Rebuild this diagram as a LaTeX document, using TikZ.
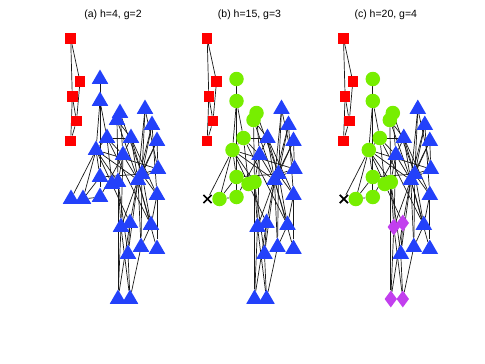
\documentclass[tikz,border=0pt]{standalone}
\usepackage{fontspec}
\setmainfont{Liberation Sans}
\usepackage{xcolor}
\definecolor{sq-red}{HTML}{FF0000}
\definecolor{tri-blue}{HTML}{2341FA}
\definecolor{dot-green}{HTML}{77EE00}
\definecolor{dia-purple}{HTML}{C23FEE}
\usepackage{tikz}
\usetikzlibrary{shapes.geometric,shapes.misc,backgrounds}

\begin{document}
\begin{tikzpicture}[
  x=1pt, y=-1pt,
  font=\fontsize{10.5}{12}\selectfont,
  sqnode/.style={rectangle, fill=sq-red, minimum size=10.5pt, inner sep=0pt},
  trinode/.style={regular polygon, regular polygon sides=3, fill=tri-blue, minimum size=19pt, inner sep=0pt},
  dotnode/.style={circle, fill=dot-green, minimum size=14.5pt, inner sep=0pt},
  dianode/.style={diamond, fill=dia-purple, minimum width=12.5pt, minimum height=17pt, inner sep=0pt},
  crossnode/.style={cross out, draw=black, line width=1.7pt, minimum size=6.5pt, inner sep=0pt},
  link/.style={draw=black!90, line width=0.7pt}
]
  \useasboundingbox (0,0) rectangle (485,364);

  \foreach \p/\dx/\gs/\ps/\xs/\ttl in {
      a/0/trinode/trinode/trinode/{(a) h=4, g=2},
      b/136.5/dotnode/trinode/crossnode/{(b) h=15, g=3},
      c/272.8/dotnode/dianode/crossnode/{(c) h=20, g=4}} {
  \begin{scope}[xshift=\dx]
    \node (\p-title) at (113,15) {\ttl};
    % squares
    \node[sqnode] (\p-s1) at (70.7,38.5) {};
    \node[sqnode] (\p-s2) at (80,81.5) {};
    \node[sqnode] (\p-s3) at (72.3,96.5) {};
    \node[sqnode] (\p-s4) at (76.5,121) {};
    \node[sqnode] (\p-s5) at (70.7,141) {};
    % upper part
    \node[\gs] (\p-t1) at (100,79) {};
    \node[\gs] (\p-t2) at (100,101) {};
    \node[\gs] (\p-t4) at (117,120) {};
    \node[\gs] (\p-t3) at (120,113) {};
    \node[trinode] (\p-t5) at (145,109) {};
    \node[trinode] (\p-t6) at (152,125) {};
    \node[\gs] (\p-t7) at (107,138) {};
    \node[trinode] (\p-t8) at (131,138) {};
    \node[trinode] (\p-t9) at (157,141) {};
    \node[\gs] (\p-t10) at (96,150) {};
    \node[trinode] (\p-t11) at (123,155) {};
    \node[trinode] (\p-t12) at (158,169) {};
    \node[trinode] (\p-t13) at (142,174) {};
    \node[\gs] (\p-t14) at (100,177) {};
    \node[trinode] (\p-t17) at (138,180) {};
    \node[\gs] (\p-t16) at (118,182) {};
    \node[\gs] (\p-t15) at (112,184) {};
    \node[\xs] (\p-t18) at (71,199) {};
    \node[\gs] (\p-t19) at (83,199) {};
    \node[\gs] (\p-t20) at (100,197) {};
    \node[trinode] (\p-t21) at (157,195) {};
    % lower part
    \node[\ps] (\p-t22) at (121,227) {};
    \node[\ps] (\p-t23) at (130,223) {};
    \node[trinode] (\p-t24) at (151,225) {};
    \node[trinode] (\p-t25) at (128,254) {};
    \node[trinode] (\p-t26) at (141,247) {};
    \node[trinode] (\p-t27) at (157,249) {};
    \node[\ps] (\p-t28) at (118,299) {};
    \node[\ps] (\p-t29) at (130,299) {};

    \begin{scope}[on background layer]
      \foreach \u/\v in {s1/s2, s1/s3, s2/s4, s3/s4, s3/s5, s4/s5,
          t1/t2, t1/t14, t2/t7, t2/t10,
          t3/t4, t3/t11, t3/t13, t4/t8, t4/t16, t4/t17,
          t5/t12, t5/t13, t5/t17, t6/t13, t6/t17, t6/t21,
          t7/t8, t7/t10, t7/t11, t7/t15, t7/t24,
          t8/t11, t8/t13, t8/t17, t8/t21,
          t9/t12, t9/t13, t9/t17,
          t10/t12, t10/t14, t10/t15, t10/t16, t10/t17, t10/t18, t10/t19,
          t11/t16, t11/t17, t11/t22, t12/t13, t12/t17,
          t13/t14, t13/t21, t13/t24, t13/t26,
          t14/t15, t14/t19, t14/t20, t15/t23, t16/t22, t16/t25, t16/t28,
          t17/t22, t17/t23, t17/t24, t17/t25, t17/t26, t17/t27,
          t19/t20, t20/t11, t21/t24, t21/t27,
          t22/t28, t22/t29, t23/t25, t23/t28, t24/t26, t25/t29, t26/t29}
        \draw[link] (\p-\u) -- (\p-\v);
    \end{scope}
  \end{scope}
  }
\end{tikzpicture}
\end{document}
